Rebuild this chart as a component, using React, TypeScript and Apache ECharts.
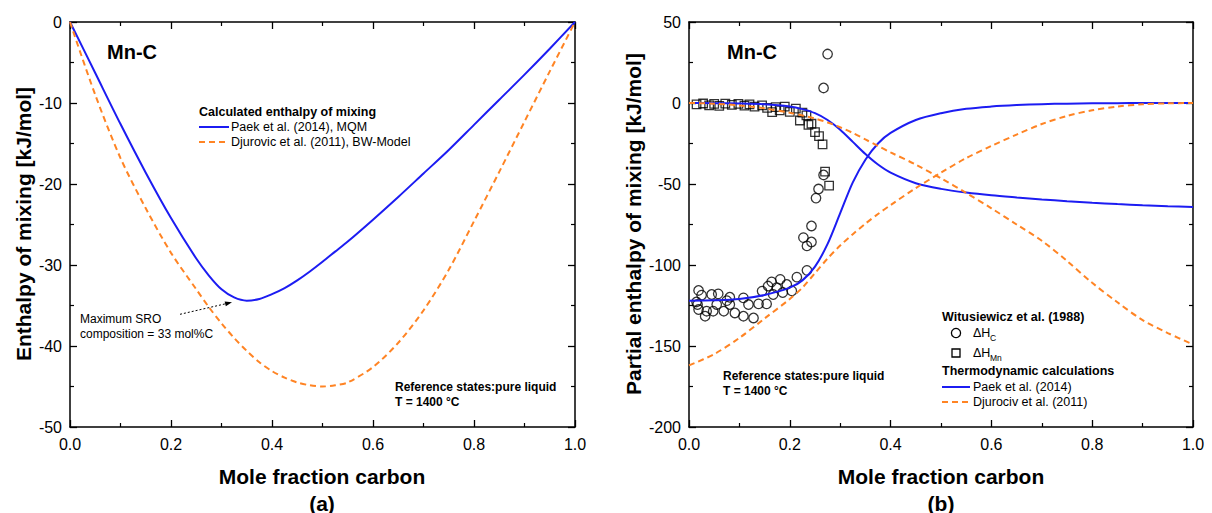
import { useEffect, useRef } from "react";
import * as echarts from "echarts";

const FONT = "'Liberation Sans', Arial, Helvetica, sans-serif";
const BLUE = "#1c1cf2";
const ORANGE = "#ff8424";

// ---------- Panel (a): integral enthalpy of mixing ----------
const moleFractionA = [0, 0.05, 0.1, 0.15, 0.2, 0.25, 0.275, 0.3, 0.325, 0.35, 0.375, 0.4, 0.425, 0.45, 0.475, 0.5, 0.525, 0.55, 0.6, 0.65, 0.7, 0.75, 0.8, 0.85, 0.9, 0.95, 1.0];
const paekMixing = [0, -6.3, -12.6, -18.6, -24.2, -29.2, -31.3, -33.0, -34.0, -34.4, -34.2, -33.6, -32.85, -31.9, -30.8, -29.6, -28.35, -27.1, -24.4, -21.6, -18.7, -15.8, -12.7, -9.6, -6.5, -3.3, 0];
const djurovicMixing = [0, -9.0, -16.8, -23.0, -28.5, -33.0, -35.2, -37.2, -39.0, -40.6, -42.0, -43.1, -43.9, -44.5, -44.85, -45.0, -44.85, -44.5, -42.6, -39.6, -35.6, -30.6, -24.6, -18.5, -12.3, -6.1, 0];

// ---------- Panel (b): partial enthalpies ----------
const moleFractionB = [0, 0.05, 0.1, 0.15, 0.2, 0.225, 0.25, 0.275, 0.3, 0.325, 0.35, 0.375, 0.4, 0.45, 0.5, 0.55, 0.6, 0.65, 0.7, 0.75, 0.8, 0.85, 0.9, 0.95, 1.0];
const paekMn = [0, -0.1, -0.3, -0.8, -2.2, -3.8, -6.3, -10.5, -16.5, -24.0, -31.5, -38.0, -43.0, -49.5, -53.0, -55.3, -57.0, -58.3, -59.5, -60.6, -61.6, -62.4, -63.1, -63.7, -64.2];
const paekC = [-122, -121.8, -121, -118.5, -114, -109.5, -101, -87, -68, -49, -35, -25, -18.5, -10.5, -6.3, -3.6, -2.2, -1.3, -0.7, -0.4, -0.2, -0.1, -0.05, 0, 0];
const djurovicMn = [0, -0.4, -1.5, -3.3, -6.0, -7.7, -9.6, -12.0, -15.0, -18.5, -22.5, -26.5, -30.5, -38.0, -46.5, -55.5, -65.0, -75.0, -85.0, -97.5, -111, -123, -134, -142, -149];
const djurovicC = [-162, -155, -145, -133, -121, -114, -105, -96, -88, -81, -74.5, -68.5, -63, -52.5, -43, -34, -26.5, -19.5, -13, -8, -4.5, -2.2, -0.8, -0.2, 0];

// Witusiewicz et al. (1988) experimental data
const witusiewiczCx = [0.015, 0.017, 0.019, 0.019, 0.025, 0.032, 0.035, 0.045, 0.048, 0.055, 0.058, 0.069, 0.075, 0.081, 0.081, 0.091, 0.108, 0.108, 0.118, 0.128, 0.138, 0.145, 0.154, 0.157, 0.164, 0.167, 0.174, 0.181, 0.186, 0.194, 0.204, 0.214, 0.234, 0.227, 0.234, 0.243, 0.243, 0.252, 0.257, 0.267, 0.267, 0.275];
const witusiewiczCy = [-122.8, -124.4, -115.7, -127.5, -118.6, -131.6, -128.5, -118.2, -128.5, -124.4, -117.8, -128.5, -122, -119.9, -124.4, -129.6, -120.3, -131.6, -124.4, -132.7, -124, -116.1, -124, -113, -110.4, -118.2, -114, -108.9, -117, -112, -116, -107.5, -103.3, -83.1, -88.2, -85.8, -75.9, -58.7, -53.1, -44.4, 9.3, 30.2];
const witusiewiczMnX = [0.015, 0.028, 0.04, 0.05, 0.06, 0.072, 0.085, 0.098, 0.11, 0.12, 0.13, 0.145, 0.155, 0.165, 0.172, 0.18, 0.19, 0.2, 0.212, 0.22, 0.225, 0.233, 0.237, 0.243, 0.25, 0.258, 0.265, 0.27, 0.278];
const witusiewiczMnY = [-0.8, -0.3, -1.5, -0.5, -1.8, -0.4, -1.2, -0.6, -1.6, -0.9, -2.2, -1.5, -3.0, -5.6, -2.6, -4.5, -2.2, -5.5, -3.5, -10.8, -6, -7.7, -13.5, -12.8, -18, -20.5, -25.5, -42.4, -51];

const zip = (xs: number[], ys: number[]) => xs.map((x, i) => [x, ys[i]]);

function xAxes(gridIndex: number) {
  const base: any = {
    gridIndex, type: "value", min: 0, max: 1, interval: 0.2,
    axisLine: { show: true, onZero: false, lineStyle: { color: "#000", width: 1.5 } },
    axisTick: { show: true, inside: true, length: 7, lineStyle: { color: "#000", width: 1.3 } },
    minorTick: { show: true, splitNumber: 2, length: 4, lineStyle: { color: "#000", width: 1.2 } },
    splitLine: { show: false }, minorSplitLine: { show: false },
  };
  return [
    { ...base, position: "bottom", axisLabel: { show: true, formatter: (v: number) => v.toFixed(1), fontSize: 16, color: "#000", fontFamily: FONT, margin: 9 } },
    { ...base, position: "top", axisLabel: { show: false } },
  ];
}

function yAxes(gridIndex: number, min: number, max: number, interval: number) {
  const base: any = {
    gridIndex, type: "value", min, max, interval,
    axisLine: { show: true, onZero: false, lineStyle: { color: "#000", width: 1.5 } },
    axisTick: { show: true, inside: true, length: 7, lineStyle: { color: "#000", width: 1.3 } },
    minorTick: { show: true, splitNumber: 2, length: 4, lineStyle: { color: "#000", width: 1.2 } },
    splitLine: { show: false }, minorSplitLine: { show: false },
  };
  return [
    { ...base, position: "left", axisLabel: { show: true, fontSize: 16, color: "#000", fontFamily: FONT, margin: 8 } },
    { ...base, position: "right", axisLabel: { show: false } },
  ];
}

const txt = (text: string, x: number, y: number, size: number, bold = false, align = "left", rotation = 0) => ({
  type: "text", x, y, rotation, z: 10,
  style: { text, fontSize: size, fontWeight: bold ? "bold" : "normal", fontFamily: FONT, fill: "#000", align, verticalAlign: "middle" },
});

const hline = (x1: number, x2: number, y: number, color: string, dash: any = null) => ({
  type: "line", z: 10,
  shape: { x1, y1: y, x2, y2: y },
  style: { stroke: color, lineWidth: 2, lineDash: dash },
});

export default function App() {
  const ref = useRef<HTMLDivElement>(null);
  useEffect(() => {
    if (!ref.current) return;
    const chart = echarts.init(ref.current, null, { renderer: "svg" });
    const lineBase = { type: "line", showSymbol: false, smooth: 0.3, z: 3 };
    chart.setOption({
      animation: false,
      backgroundColor: "#fff",
      grid: [
        { left: 70, top: 22, width: 505, height: 405 },
        { left: 689, top: 22, width: 504, height: 405 },
      ],
      xAxis: [...xAxes(0), ...xAxes(1)],
      yAxis: [...yAxes(0, -50, 0, 10), ...yAxes(1, -200, 50, 50)],
      series: [
        { ...lineBase, name: "Paek et al. (2014), MQM", xAxisIndex: 0, yAxisIndex: 0, data: zip(moleFractionA, paekMixing), lineStyle: { color: BLUE, width: 2 } },
        { ...lineBase, name: "Djurovic et al. (2011), BW-Model", xAxisIndex: 0, yAxisIndex: 0, data: zip(moleFractionA, djurovicMixing), lineStyle: { color: ORANGE, width: 2, type: [6, 4] } },
        { type: "scatter", name: "ΔH_C", xAxisIndex: 2, yAxisIndex: 2, data: zip(witusiewiczCx, witusiewiczCy), symbol: "circle", symbolSize: 9.5, itemStyle: { color: "rgba(255,255,255,0)", borderColor: "#000", borderWidth: 1.3 }, z: 2 },
        { type: "scatter", name: "ΔH_Mn", xAxisIndex: 2, yAxisIndex: 2, data: zip(witusiewiczMnX, witusiewiczMnY), symbol: "rect", symbolSize: 8.5, itemStyle: { color: "rgba(255,255,255,0)", borderColor: "#000", borderWidth: 1.3 }, z: 2 },
        { ...lineBase, name: "Paek ΔH_Mn", xAxisIndex: 2, yAxisIndex: 2, data: zip(moleFractionB, paekMn), lineStyle: { color: BLUE, width: 2 } },
        { ...lineBase, name: "Paek ΔH_C", xAxisIndex: 2, yAxisIndex: 2, data: zip(moleFractionB, paekC), lineStyle: { color: BLUE, width: 2 } },
        { ...lineBase, name: "Djurovic ΔH_Mn", xAxisIndex: 2, yAxisIndex: 2, data: zip(moleFractionB, djurovicMn), lineStyle: { color: ORANGE, width: 2, type: [6, 4] } },
        { ...lineBase, name: "Djurovic ΔH_C", xAxisIndex: 2, yAxisIndex: 2, data: zip(moleFractionB, djurovicC), lineStyle: { color: ORANGE, width: 2, type: [6, 4] } },
      ],
      graphic: [
        // axis titles
        txt("Enthalpy of mixing [kJ/mol]", 23, 224, 21, true, "center", Math.PI / 2),
        txt("Partial enthalpy of mixing [kJ/mol]", 633, 224, 21, true, "center", Math.PI / 2),
        txt("Mole fraction carbon", 322, 476, 21, true, "center"),
        txt("Mole fraction carbon", 941, 476, 21, true, "center"),
        txt("(a)", 322, 503, 21, true, "center"),
        txt("(b)", 941, 503, 21, true, "center"),
        // panel labels
        txt("Mn-C", 107, 52, 20, true),
        txt("Mn-C", 727, 52, 20, true),
        // legend (a)
        txt("Calculated enthalpy of mixing", 199, 112, 12.5, true),
        hline(199, 229, 127, BLUE),
        txt("Paek et al. (2014), MQM", 231, 127, 12.5),
        hline(199, 229, 142, ORANGE, [6, 4]),
        txt("Djurovic et al. (2011), BW-Model", 231, 142, 12.5),
        // annotation (a)
        txt("Maximum SRO", 80, 319, 12),
        txt("composition = 33 mol%C", 80, 334, 12),
        { type: "line", z: 10, shape: { x1: 180, y1: 314.3, x2: 225.5, y2: 303.8 }, style: { stroke: "#000", lineWidth: 1, lineDash: [2, 2] } },
        { type: "polygon", z: 10, shape: { points: [[232, 302.3], [225.8, 306.3], [224.6, 301.5]] }, style: { fill: "#000" } },
        txt("Reference states:pure liquid", 395, 387, 12, true),
        txt("T = 1400 °C", 395, 402, 12, true),
        // panel (b) texts
        txt("Reference states:pure liquid", 723, 376, 12, true),
        txt("T = 1400 °C", 723, 391, 12, true),
        txt("Witusiewicz et al. (1988)", 942, 317, 12.5, true),
        { type: "circle", z: 10, shape: { cx: 956, cy: 333, r: 4.6 }, style: { fill: "none", stroke: "#000", lineWidth: 1.3 } },
        txt("ΔH", 973, 333, 12.5),
        txt("C", 990, 338, 8.5),
        { type: "rect", z: 10, shape: { x: 952, y: 349, width: 8, height: 8 }, style: { fill: "none", stroke: "#000", lineWidth: 1.3 } },
        txt("ΔH", 973, 353, 12.5),
        txt("Mn", 990, 358, 8.5),
        txt("Thermodynamic calculations", 942, 371, 12.5, true),
        hline(942, 970, 387, BLUE),
        txt("Paek et al. (2014)", 973, 387, 12.5),
        hline(942, 970, 402, ORANGE, [6, 4]),
        txt("Djurociv et al. (2011)", 973, 402, 12.5),
      ],
    });
    return () => chart.dispose();
  }, []);
  return <div ref={ref} style={{ position: "fixed", left: 0, top: 0, width: 1212, height: 513, background: "#fff" }} />;
}
